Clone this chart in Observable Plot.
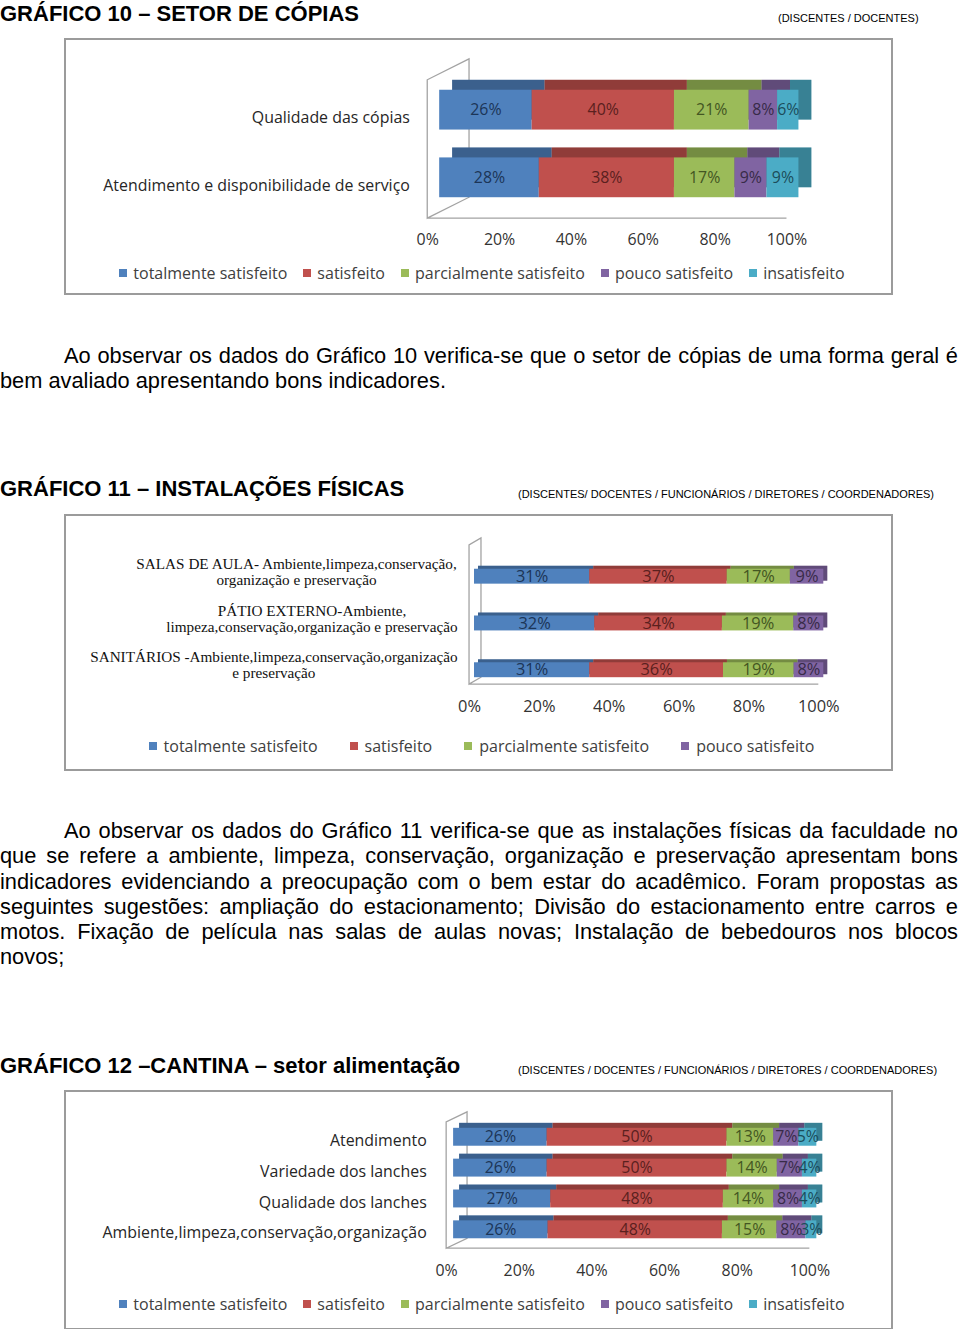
<!DOCTYPE html>
<html lang="pt">
<head>
<meta charset="utf-8">
<title>Gráficos 10-12</title>
<script src="https://cdn.jsdelivr.net/npm/d3@7"></script>
<script src="https://cdn.jsdelivr.net/npm/@observablehq/plot@0.6"></script>
<style>
  html,body{margin:0;padding:0;background:#fff;}
  #page{position:relative;width:960px;height:1329px;overflow:hidden;font-family:"Liberation Sans",Arial,sans-serif;color:#000;}
  .title{position:absolute;left:0;font-weight:bold;font-size:22px;line-height:24px;white-space:nowrap;}
  .sub{position:absolute;font-size:11px;line-height:14px;white-space:nowrap;}
  .para{position:absolute;left:0;width:958px;font-size:21.8px;line-height:25.3px;}
  .para div{text-align:justify;text-align-last:justify;}
  .para div.first{text-indent:64px;}
  .para div.last{text-align-last:left;}
  .frame{position:absolute;left:64px;width:829px;box-sizing:border-box;border:2px solid #9b9b9b;background:#fff;}
  .legend{position:absolute;left:-2px;width:829px;display:flex;justify-content:center;}
</style>
</head>
<body>
<div id="page">
  <div class="title" style="top:2px">GRÁFICO 10 – SETOR DE CÓPIAS</div>
  <div class="sub" style="left:778px;top:11px">(DISCENTES / DOCENTES)</div>
  <div class="frame" id="f10" style="top:38px;height:257px"></div>

  <div class="para" style="top:343px">
    <div class="first">Ao observar os dados do Gráfico 10 verifica-se que o setor de cópias de uma forma geral é</div>
    <div class="last">bem avaliado apresentando bons indicadores.</div>
  </div>

  <div class="title" style="top:477px">GRÁFICO 11 – INSTALAÇÕES FÍSICAS</div>
  <div class="sub" style="left:518px;top:487px">(DISCENTES/ DOCENTES / FUNCIONÁRIOS / DIRETORES / COORDENADORES)</div>
  <div class="frame" id="f11" style="top:514px;height:257px"></div>

  <div class="para" style="top:818px">
    <div class="first">Ao observar os dados do Gráfico 11 verifica-se que as instalações físicas da faculdade no</div>
    <div>que se refere a ambiente, limpeza, conservação, organização e preservação apresentam bons</div>
    <div>indicadores evidenciando a preocupação com o bem estar do acadêmico. Foram propostas as</div>
    <div>seguintes sugestões: ampliação do estacionamento; Divisão do estacionamento entre carros e</div>
    <div>motos. Fixação de película nas salas de aulas novas; Instalação de bebedouros nos blocos</div>
    <div class="last">novos;</div>
  </div>

  <div class="title" style="top:1054px">GRÁFICO 12 –CANTINA – setor alimentação</div>
  <div class="sub" style="left:518px;top:1063px">(DISCENTES / DOCENTES / FUNCIONÁRIOS / DIRETORES / COORDENADORES)</div>
  <div class="frame" id="f12" style="top:1090px;height:240px"></div>
</div>

<script>
// ---------- data ----------
const statusAll = ["totalmente satisfeito", "satisfeito", "parcialmente satisfeito", "pouco satisfeito", "insatisfeito"];
const statusColors = ["#4f81bd", "#c0504d", "#9bbb59", "#8064a2", "#4bacc6"];
const labelColors = ["#1c3557", "#5a201e", "#435622", "#382b48", "#1c4c5a"];
const xTicks = [0, 0.2, 0.4, 0.6, 0.8, 1];

const status10 = ["totalmente satisfeito", "satisfeito", "parcialmente satisfeito", "pouco satisfeito", "insatisfeito"];
const cats10 = ["Qualidade das cópias", "Atendimento e disponibilidade de serviço"];
const vals10 = [
  [26, 40, 21, 8, 6],
  [28, 38, 17, 9, 9]
];

const status11 = ["totalmente satisfeito", "satisfeito", "parcialmente satisfeito", "pouco satisfeito"];
const cats11 = [
  "SALAS DE AULA- Ambiente,limpeza,conservação,\norganização e preservação",
  "PÁTIO EXTERNO-Ambiente,\nlimpeza,conservação,organização e preservação",
  "SANITÁRIOS -Ambiente,limpeza,conservação,organização\ne preservação"
];
const vals11 = [
  [31, 37, 17, 9],
  [32, 34, 19, 8],
  [31, 36, 19, 8]
];

const status12 = ["totalmente satisfeito", "satisfeito", "parcialmente satisfeito", "pouco satisfeito", "insatisfeito"];
const cats12 = ["Atendimento", "Variedade dos lanches", "Qualidade dos lanches", "Ambiente,limpeza,conservação,organização"];
const vals12 = [
  [26, 50, 13, 7, 5],
  [26, 50, 14, 7, 4],
  [27, 48, 14, 8, 4],
  [26, 48, 15, 8, 3]
];

// ---------- helpers ----------
const measureCtx = document.createElement("canvas").getContext("2d");
function textWidth(s, font) { measureCtx.font = font; return measureCtx.measureText(s).width; }

function wallMark(cfg) {
  return (index, scales, values, dims) => {
    const X0 = scales.x(0) - cfg.off, X1 = scales.x(1) - cfg.off;
    const top = dims.marginTop, floor = dims.height - dims.marginBottom;
    const [ddx, ddy] = cfg.depth;
    const g = d3.create("svg:g").attr("fill", "none").attr("stroke", "#a3a3a3").attr("stroke-width", 1.3);
    g.append("path").attr("d",
      `M${X0},${floor}V${top}L${X0 + ddx},${top + ddy}V${floor + ddy}Z` +
      `M${X0},${floor}H${X1}`);
    return g.node();
  };
}

function makeChart(frameId, cfg) {
  const data = cfg.cats.flatMap((c, i) => cfg.status.map((s, j) => ({cat: c, status: s, value: cfg.values[i][j]})));
  const stack = (o) => Plot.stackX({x: "value", y: "cat", offset: "normalize", ...o});
  const [fx, fy] = cfg.face;
  const marks = [
    wallMark(cfg),
    Plot.barX(data, stack({fill: "status", dx: fx, dy: fy})),
    Plot.barX(data, stack({fill: "#000", fillOpacity: 0.25, dx: fx, dy: fy})),
    Plot.barX(data, stack({fill: "status"})),
    Plot.text(data, stack({
      text: d => d.value + "%",
      fill: d => labelColors[statusAll.indexOf(d.status)],
      fontSize: cfg.labelSize
    })),
    Plot.axisX({ticks: xTicks, tickFormat: d3.format(".0%"), tickSize: 0, tickPadding: cfg.tickPadding,
      dx: -cfg.off, fontSize: cfg.tickFont, label: null, fill: "#333"})
  ];
  if (cfg.serifLabels) {
    const font = `${cfg.serifSize}px "Liberation Serif"`;
    cfg.cats.forEach(c => {
      const w = d3.max(c.split("\n"), l => textWidth(l, font));
      marks.push(Plot.text([c], {
        y: d => d, text: d => d, frameAnchor: "left", textAnchor: "middle",
        dx: -(cfg.yTickPadding + w / 2), dy: cfg.yLabelDy,
        fontFamily: "Liberation Serif", fontSize: cfg.serifSize, lineHeight: cfg.serifLine / cfg.serifSize,
        fill: "#111"
      }));
    });
  } else {
    marks.push(Plot.axisY({tickSize: 0, tickPadding: cfg.yTickPadding, dy: cfg.yLabelDy, label: null,
      fontSize: cfg.yFont, fill: "#262626"}));
  }
  const n = cfg.status.length;
  const plot = Plot.plot({
    width: cfg.width, height: cfg.height,
    marginLeft: cfg.marginLeft, marginRight: cfg.marginRight,
    marginTop: cfg.marginTop, marginBottom: cfg.marginBottom,
    x: {domain: [0, 1], label: null},
    y: {domain: cfg.cats, range: cfg.yRange, paddingInner: cfg.yPadInner, paddingOuter: cfg.yPadInner / 2, label: null, axis: cfg.serifLabels ? null : undefined},
    color: {domain: cfg.status, range: statusColors.slice(0, n)},
    style: {fontFamily: "'Open Sans', sans-serif", fontSize: "16px", color: "#333", background: "transparent", overflow: "visible"},
    marks
  });
  plot.style.position = "absolute";
  plot.style.left = "-2px";
  plot.style.top = "-2px";
  const frame = document.getElementById(frameId);
  frame.appendChild(plot);

  const leg = plot.legend("color", {
    swatchSize: cfg.swatch, className: cfg.cls,
    style: {fontFamily: "'Open Sans', sans-serif", fontSize: cfg.legendFont + "px", color: "#404040", minHeight: "0", margin: "0"}
  });
  leg.querySelectorAll(`.${cfg.cls}-swatch`).forEach((s, i, all) => {
    s.style.marginRight = (i === all.length - 1 ? 0 : cfg.legendGap) + "px";
    const sv = s.querySelector("svg");
    if (sv) sv.style.marginRight = cfg.swatchGap + "px";
  });
  const wrap = document.createElement("div");
  wrap.className = "legend";
  wrap.style.top = cfg.legendTop + "px";
  wrap.style.paddingLeft = cfg.legendShift + "px";
  wrap.style.boxSizing = "border-box";
  wrap.appendChild(leg);
  frame.appendChild(wrap);
}

makeChart("f10", {
  cats: cats10, status: status10, values: vals10,
  width: 829, height: 215, marginLeft: 377, marginRight: 91, marginTop: 42, marginBottom: 34,
  yRange: [38, 174], yPadInner: 0.41, off: 12, depth: [42, -21], face: [13, -10],
  labelSize: 16, tickFont: 16, tickPadding: 15, yTickPadding: 30, yLabelDy: 8, yFont: 16,
  cls: "lgA", swatch: 8, swatchGap: 6, legendGap: 16, legendFont: 16, legendTop: 222, legendShift: 7
});

makeChart("f11", {
  cats: cats11, status: status11, values: vals11,
  width: 829, height: 211, marginLeft: 412, marginRight: 66, marginTop: 31, marginBottom: 40,
  yRange: [39, 180], yPadInner: 0.68, off: 5, depth: [12, -7], face: [4, -3],
  labelSize: 16.5, tickFont: 16.5, tickPadding: 16, yTickPadding: 17, yLabelDy: -5,
  serifLabels: true, serifSize: 15.3, serifLine: 16,
  cls: "lgB", swatch: 8, swatchGap: 7, legendGap: 32, legendFont: 16, legendTop: 219, legendShift: 6
});

makeChart("f12", {
  cats: cats12, status: status12, values: vals12,
  width: 829, height: 195, marginLeft: 391, marginRight: 73, marginTop: 32, marginBottom: 36,
  yRange: [29.5, 157], yPadInner: 0.434, off: 7, depth: [21, -10], face: [6, -5],
  labelSize: 16, tickFont: 16, tickPadding: 16, yTickPadding: 27, yLabelDy: 3.5, yFont: 16,
  cls: "lgC", swatch: 8, swatchGap: 6, legendGap: 16, legendFont: 16, legendTop: 201, legendShift: 7
});
</script>
</body>
</html>
